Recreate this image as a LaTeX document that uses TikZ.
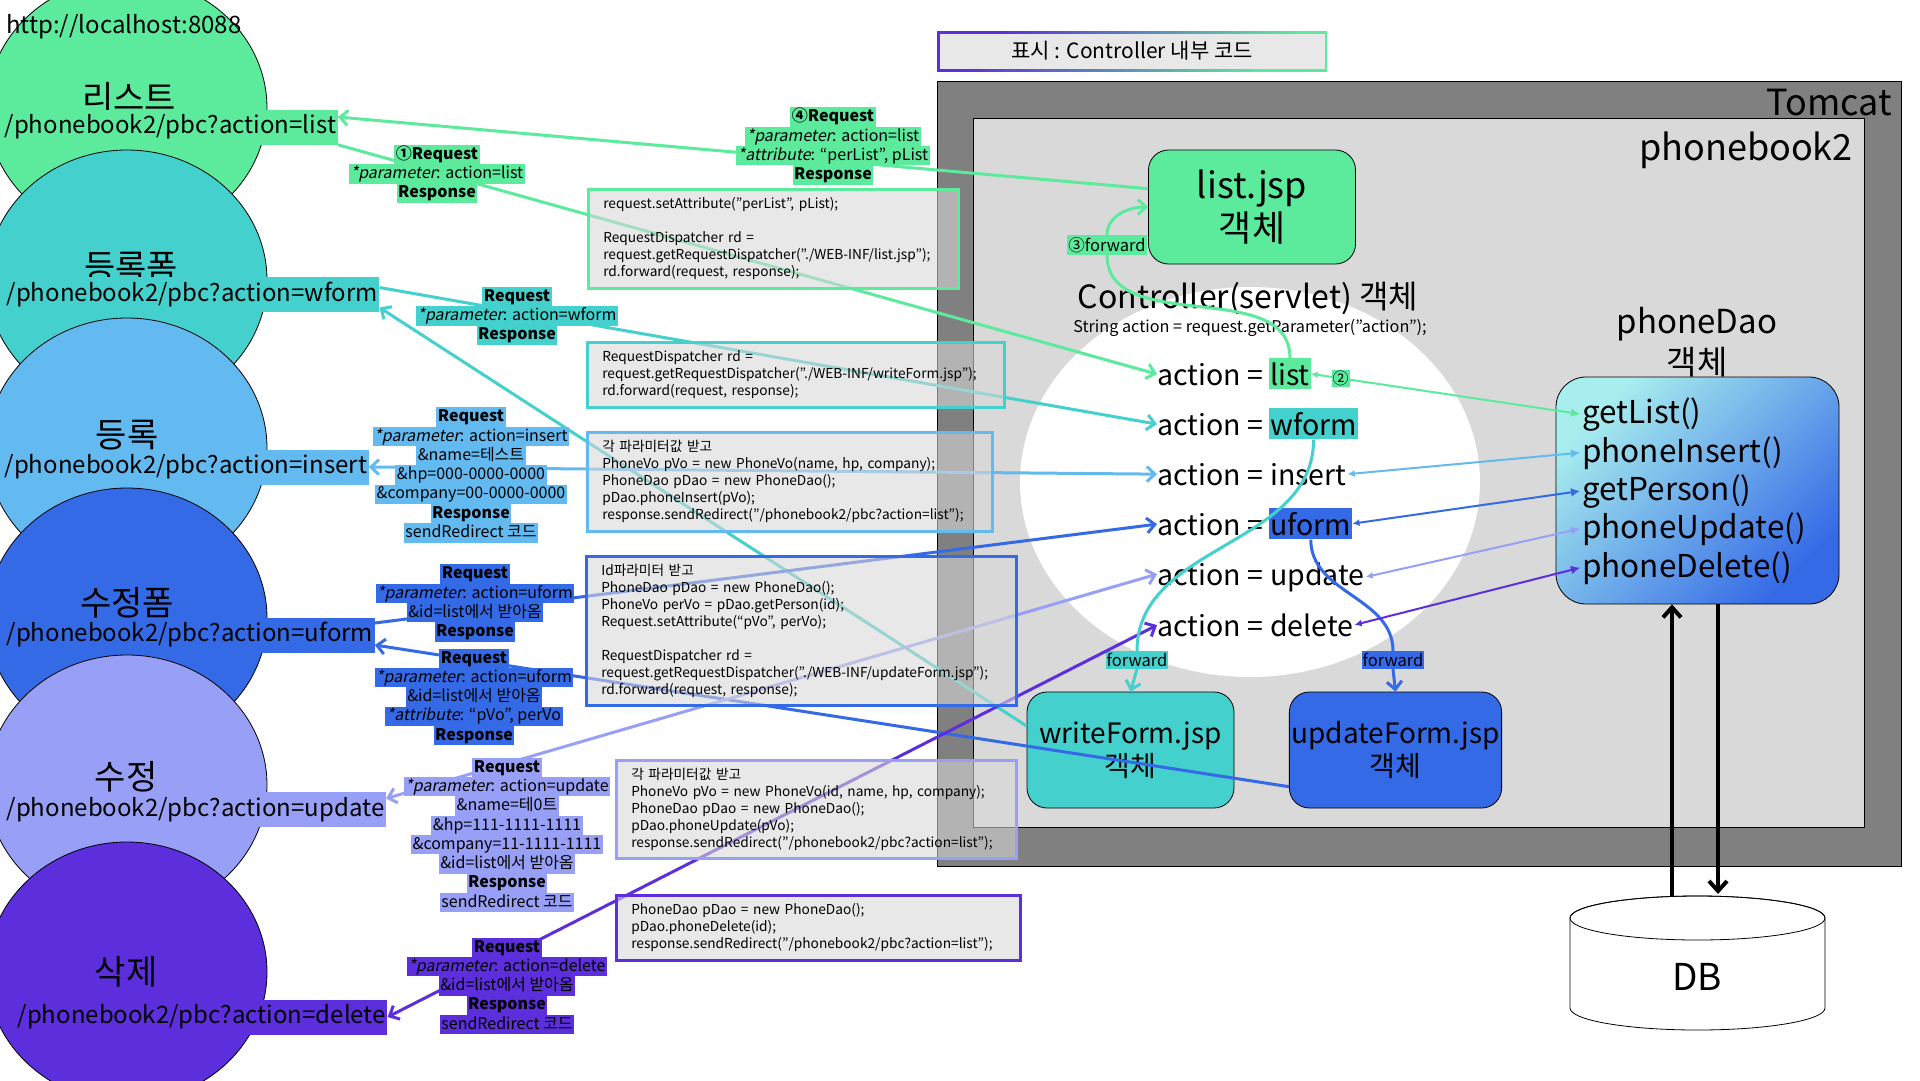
\documentclass[tikz,border=0pt]{standalone}
\usepackage{fontspec}
\setmainfont{Noto Sans CJK KR}[AutoFakeSlant=0.2]
\usepackage{tikz}
\usetikzlibrary{arrows.meta}
\usetikzlibrary{positioning}
\usetikzlibrary{calc}
\definecolor{cgreen}{HTML}{5CEB9C}
\definecolor{cteal}{HTML}{44D0CD}
\definecolor{csky}{HTML}{63BAF1}
\definecolor{cblue}{HTML}{356AE6}
\definecolor{clav}{HTML}{97A0F6}
\definecolor{cpurp}{HTML}{5D2EDC}
\definecolor{tomcatgray}{HTML}{808080}
\definecolor{appgray}{HTML}{D9D9D9}
\definecolor{codegray}{HTML}{D8D8D8}
\definecolor{legendgray}{HTML}{E8E8E8}
\definecolor{daolight}{HTML}{A8EEEE}
\colorlet{hlc}{white}
\setlength{\fboxsep}{0pt}
\setlength{\lineskiplimit}{-100pt}
\hyphenpenalty=10000
\exhyphenpenalty=10000
\newcommand{\hl}[1]{\colorbox{hlc}{\rule[-5pt]{0pt}{19.3pt}\hspace{1.5pt}#1\hspace{1.5pt}}}

\begin{document}
\begin{tikzpicture}[x=1pt,y=-1pt,>={Straight Barb[length=8pt,width=15pt]},
  bubble/.style={draw=black,line width=0.8pt},
  bubtext/.style={font=\fontsize{34}{38}\selectfont},
  url/.style={anchor=west,inner xsep=1.5pt,inner ysep=0pt,minimum height=35pt,font=\fontsize{24}{28}\selectfont},
  act/.style={anchor=base west,inner xsep=0pt,font=\fontsize{28.5}{33}\selectfont},
  word/.style={inner xsep=1pt,inner ysep=4pt,font=\fontsize{28.5}{33}\selectfont},
  jsp/.style={draw=black,line width=0.8pt,rounded corners=20pt,minimum width=207pt,minimum height=116pt,inner xsep=2pt,align=center},
  method/.style={anchor=base west,inner xsep=2pt,font=\fontsize{31.5}{36}\selectfont},
  conn/.style={draw=#1,line width=3pt},
  call/.style={draw=#1,line width=2pt,{Latex[length=7pt,width=7pt]}-{Latex[length=9pt,width=9pt]}},
  fwd/.style={fill=#1,inner xsep=1pt,inner ysep=2pt,font=\fontsize{16.5}{20}\selectfont},
  reqlabel/.style={align=center,inner sep=0pt,font=\fontsize{16}{19.3}\selectfont,execute at begin node={\colorlet{hlc}{#1}}},
  codebox/.style={draw=#1,line width=2.5pt,fill=codegray,fill opacity=0.58,text opacity=1,anchor=north west,align=left,inner xsep=15pt,inner ysep=0pt,font=\fontsize{13.7}{17}\selectfont}]
\useasboundingbox (0,0) rectangle (1920,1080);
\fill[white] (0,0) rectangle (1920,1080);

% Tomcat / phonebook2
\draw[fill=tomcatgray,line width=0.8pt] (937,81) rectangle (1901,866);
\draw[fill=appgray,line width=0.8pt] (973,118) rectangle (1864,827);
\node[anchor=base east,inner sep=0pt,font=\fontsize{36}{42}\selectfont] (tomcat) at (1892,115) {Tomcat};
\node[anchor=base east,inner sep=0pt,font=\fontsize{36}{42}\selectfont] (app) at (1853,160) {phonebook2};

% legend
\shade[left color=cpurp,middle color=cblue,right color=cgreen,shading angle=45] (937,31) rectangle (1327,71);
\node[fill=legendgray,minimum width=385pt,minimum height=35pt,font=\fontsize{21}{24}\selectfont] (legend) at (1132,51) {표시 : Controller 내부 코드};

% controller
\fill[white] (1250,482) ellipse [x radius=230pt,y radius=195pt];
\node[font=\fontsize{32}{36}\selectfont] (ctrl) at (1248,298) {Controller(servlet) 객체};
\node[font=\fontsize{16.2}{19}\selectfont] (getp) at (1250,328) {String action = request.getParameter("action");};

\node[act] (aList) at (1157,385) {action =};
\node[word,fill=cgreen,base right=6pt of aList] (wList) {list};
\node[act] (aWform) at (1157,435) {action =};
\node[word,fill=cteal,base right=6pt of aWform] (wWform) {wform};
\node[act] (aInsert) at (1157,485) {action =};
\node[word,base right=6pt of aInsert] (wInsert) {insert};
\node[act] (aUform) at (1157,535) {action =};
\node[word,fill=cblue,base right=6pt of aUform] (wUform) {uform};
\node[act] (aUpdate) at (1157,585) {action =};
\node[word,base right=6pt of aUpdate] (wUpdate) {update};
\node[act] (aDelete) at (1157,636) {action =};
\node[word,base right=6pt of aDelete] (wDelete) {delete};

% phoneDao
\node[anchor=base,font=\fontsize{33}{38}\selectfont] (daoName) at (1697,333) {phoneDao};
\node[anchor=base,font=\fontsize{33}{38}\selectfont] (daoObj) at (1697,374) {객체};
\node[draw=black,line width=0.8pt,rounded corners=30pt,minimum width=283pt,minimum height=227pt,
  left color=daolight,middle color=cteal,right color=cblue,shading angle=45] (dao) at (1697.5,490.5) {};
\node[method] (mList) at (1580,423) {getList()};
\node[method] (mInsert) at (1580,462) {phoneInsert()};
\node[method] (mPerson) at (1580,500) {getPerson()};
\node[method] (mUpdate) at (1580,538) {phoneUpdate()};
\node[method] (mDelete) at (1580,577) {phoneDelete()};

% jsp objects
\node[jsp,fill=cgreen,minimum height=114pt,font=\fontsize{36}{43}\selectfont] (listJsp) at (1252,207) {list.jsp\\객체};
\node[jsp,fill=cteal,font=\fontsize{28}{33}\selectfont] (writeForm) at (1130.5,750) {writeForm.jsp\\객체};
\node[jsp,fill=cblue,font=\fontsize{28}{33}\selectfont] (updateForm) at (1395.5,750) {updateForm.jsp\\객체};

% DB
\draw[fill=white,line width=0.8pt] (1570,918) -- (1570,1008) arc[start angle=180,end angle=360,x radius=127.5pt,y radius=22pt]
  -- (1825,918) arc[start angle=0,end angle=180,x radius=127.5pt,y radius=22pt] -- cycle;
\draw[line width=0.8pt] (1697.5,918) ellipse [x radius=127.5pt,y radius=22pt];
\node[font=\fontsize{37}{40}\selectfont] (db) at (1697,977) {DB};
\coordinate (dbOut) at (1672,896);
\coordinate (dbIn) at (1718,894);
\draw[line width=4pt,->,>={Straight Barb[length=10pt,width=18pt]}] (dbOut) -- (dbOut |- dao.south);
\draw[line width=4pt,->,>={Straight Barb[length=10pt,width=18pt]}] (dbIn |- dao.south) -- (dbIn);

% pages
\foreach \cy/\col in {108/cgreen,280/cteal,448/csky,618/cblue,785/clav,972/cpurp}
  \draw[bubble,fill=\col] (127,\cy) ellipse [x radius=140pt,y radius=130pt];
\node[anchor=base west,inner sep=0pt,font=\fontsize{24}{28}\selectfont] (host) at (6,33) {http://localhost:8088};
\node[bubtext] (tList) at (129,98) {리스트};
\node[url,fill=cgreen] (uList) at (3,127) {/phonebook2/pbc?action=list};
\node[bubtext] (tWform) at (131,267) {등록폼};
\node[url,fill=cteal] (uWform) at (5,294.5) {/phonebook2/pbc?action=wform};
\node[bubtext] (tInsert) at (127,435) {등록};
\node[url,fill=csky] (uInsert) at (3,467) {/phonebook2/pbc?action=insert};
\node[bubtext] (tUform) at (127,603) {수정폼};
\node[url,fill=cblue] (uUform) at (5,635) {/phonebook2/pbc?action=uform};
\node[bubtext] (tUpdate) at (126,777) {수정};
\node[url,fill=clav] (uUpdate) at (5,809.5) {/phonebook2/pbc?action=update};
\node[bubtext] (tDelete) at (126,972) {삭제};
\node[url,fill=cpurp] (uDelete) at (16,1017) {/phonebook2/pbc?action=delete};

% forward labels
\node[fwd=cgreen] (fwdL) at (1107,245) {③forward};
\node[fwd=cteal] (fwdW) at (1137,660) {forward};
\node[fwd=cblue] (fwdU) at (1393,660) {forward};

% request / response
\draw[conn=cgreen,->] (listJsp.170) -- ([yshift=10pt]uList.east);
\draw[conn=cgreen,->] (uList.south east) -- (aList.west);
\draw[conn=cteal,->] ([yshift=7pt]uWform.east) -- (aWform.west);
\draw[conn=cteal,->] (writeForm.167) -- ([yshift=-13pt]uWform.east);
\draw[conn=csky,<->] (aInsert.west) -- (uInsert.east);
\draw[conn=cblue,->] ([yshift=12pt]uUform.east) -- (aUform.west);
\draw[conn=cblue,->] (updateForm.199) -- ([yshift=-10pt]uUform.east);
\draw[conn=clav,<->] (aUpdate.west) -- ([yshift=11pt]uUpdate.east);
\draw[conn=cpurp,<->] (aDelete.west) -- (uDelete.east);

% forward
\draw[conn=cgreen] (wList.north) to[out=90,in=-90] (fwdL.south);
\draw[conn=cgreen,->] (fwdL.north) to[out=90,in=180] (listJsp.west);
\draw[conn=cteal] (wWform.south) to[out=-90,in=90] (fwdW.north);
\draw[conn=cteal,->] (fwdW.south) -- (writeForm.north);
\draw[conn=cblue] (wUform.south) to[out=-90,in=90] (fwdU.north);
\draw[conn=cblue,->] (fwdU.south) -- (updateForm.north);

% dao calls
\draw[call=cgreen] (wList.east) -- node[pos=0.11,fill=cgreen,inner sep=1pt,font=\fontsize{16}{20}\selectfont] (two) {②} (mList.west);
\draw[call=csky] (wInsert.east) -- (mInsert.west);
\draw[call=cblue] (wUform.east) -- (mPerson.west);
\draw[call=clav] (wUpdate.east) -- (mUpdate.west);
\draw[call=cpurp] (wDelete.east) -- (mDelete.west);

% controller code
\node[codebox=cgreen,minimum width=370pt,minimum height=99pt,text width=340pt] (codeList) at (587,188)
  {request.setAttribute("perList", pList);\\[17pt]
   RequestDispatcher rd =\\
   request.getRequestDispatcher("./WEB-INF/list.jsp");\\
   rd.forward(request, response);};
\node[codebox=cteal,minimum width=417pt,minimum height=65pt,text width=387pt] (codeWform) at (586,341)
  {RequestDispatcher rd =\\
   request.getRequestDispatcher("./WEB-INF/writeForm.jsp");\\
   rd.forward(request, response);};
\node[codebox=csky,minimum width=405pt,minimum height=99pt,text width=375pt] (codeInsert) at (586,431)
  {각 파라미터값 받고\\
   PhoneVo pVo = new PhoneVo(name, hp, company);\\
   PhoneDao pDao = new PhoneDao();\\
   pDao.phoneInsert(pVo);\\
   response.sendRedirect("/phonebook2/pbc?action=list");};
\node[codebox=cblue,minimum width=430pt,minimum height=149pt,text width=400pt] (codeUform) at (585,555)
  {Id파라미터 받고\\
   PhoneDao pDao = new PhoneDao();\\
   PhoneVo perVo = pDao.getPerson(id);\\
   Request.setAttribute(“pVo”, perVo);\\[17pt]
   RequestDispatcher rd =\\
   request.getRequestDispatcher("./WEB-INF/updateForm.jsp");\\
   rd.forward(request, response);};
\node[codebox=clav,minimum width=400pt,minimum height=98pt,text width=370pt] (codeUpdate) at (615,759)
  {각 파라미터값 받고\\
   PhoneVo pVo = new PhoneVo(id, name, hp, company);\\
   PhoneDao pDao = new PhoneDao();\\
   pDao.phoneUpdate(pVo);\\
   response.sendRedirect("/phonebook2/pbc?action=list");};
\node[codebox=cpurp,minimum width=404pt,minimum height=65pt,text width=374pt] (codeDelete) at (615,894)
  {PhoneDao pDao = new PhoneDao();\\
   pDao.phoneDelete(id);\\
   response.sendRedirect("/phonebook2/pbc?action=list");};

% request labels
\node[reqlabel=cgreen] (req4) at (833,146)
  {\hl{\textbf{④Request}}\\\hl{\textit{*parameter}: action=list}\\\hl{\textit{*attribute}: “perList”, pList}\\\hl{\textbf{Response}}};
\node[reqlabel=cgreen] (req1) at (437,174)
  {\hl{\textbf{①Request}}\\\hl{\textit{*parameter}: action=list}\\\hl{\textbf{Response}}};
\node[reqlabel=cteal] (reqW) at (517,316)
  {\hl{\textbf{Request}}\\\hl{\textit{*parameter}: action=wform}\\\hl{\textbf{Response}}};
\node[reqlabel=csky] (reqI) at (471,475)
  {\hl{\textbf{Request}}\\\hl{\textit{*parameter}: action=insert}\\\hl{\&name=테스트}\\\hl{\&hp=000-0000-0000}\\
   \hl{\&company=00-0000-0000}\\\hl{\textbf{Response}}\\\hl{sendRedirect 코드}};
\node[reqlabel=cblue] (reqU1) at (475,603)
  {\hl{\textbf{Request}}\\\hl{\textit{*parameter}: action=uform}\\\hl{\&id=list에서 받아옴}\\\hl{\textbf{Response}}};
\node[reqlabel=cblue] (reqU2) at (474,697)
  {\hl{\textbf{Request}}\\\hl{\textit{*parameter}: action=uform}\\\hl{\&id=list에서 받아옴}\\\hl{\textit{*attribute}: “pVo”, perVo}\\\hl{\textbf{Response}}};
\node[reqlabel=clav] (reqUp) at (507,835)
  {\hl{\textbf{Request}}\\\hl{\textit{*parameter}: action=update}\\\hl{\&name=테0트}\\\hl{\&hp=111-1111-1111}\\
   \hl{\&company=11-1111-1111}\\\hl{\&id=list에서 받아옴}\\\hl{\textbf{Response}}\\\hl{sendRedirect 코드}};
\node[reqlabel=cpurp] (reqD) at (507,986)
  {\hl{\textbf{Request}}\\\hl{\textit{*parameter}: action=delete}\\\hl{\&id=list에서 받아옴}\\\hl{\textbf{Response}}\\\hl{sendRedirect 코드}};
\end{tikzpicture}
\end{document}
